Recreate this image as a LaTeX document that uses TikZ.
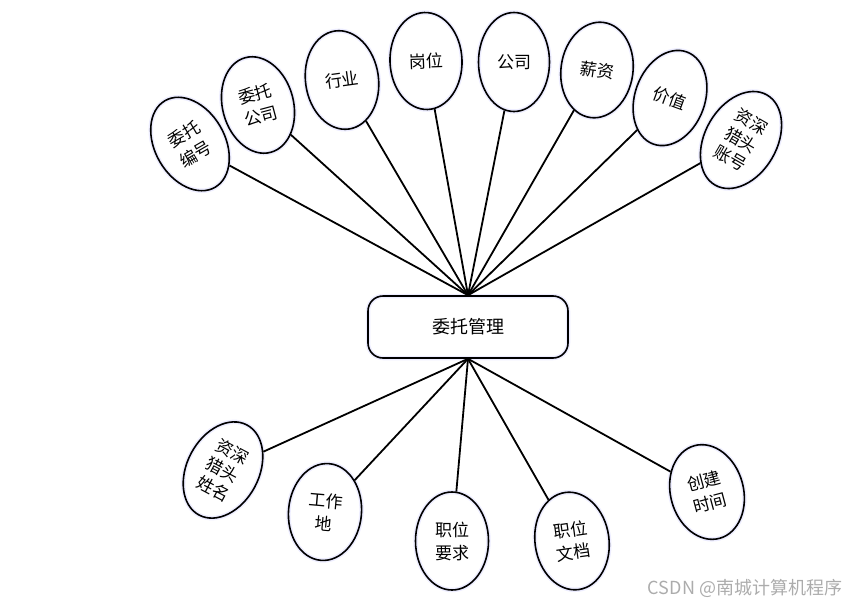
\documentclass[tikz,border=0pt]{standalone}
\usepackage{fontspec}
\setmainfont{Noto Sans CJK SC}
\usetikzlibrary{shapes.geometric}
\begin{document}
\begin{tikzpicture}[x=1pt,y=1pt,
  glow/.style={preaction={draw=blue!7, line width=4.5pt}},
  attr/.style={draw, ellipse, glow, line width=1.6pt, minimum width=71pt, minimum height=98pt,
    inner sep=0pt, align=center, font=\fontsize{17}{23}\selectfont},
  link/.style={line width=1.8pt}]
\useasboundingbox (0,0) rectangle (865,-608);
\node[draw, glow, rounded corners=15pt, line width=1.6pt, minimum width=200pt, minimum height=62pt,
  font=\fontsize{18}{22}\selectfont] (main) at (468,-327) {委托管理};
% top attributes
\node[attr, minimum width=70pt, minimum height=100pt, rotate=30] (e1) at (190,-144) {委托\\编号};
\node[attr, rotate=15] (e2) at (258,-105) {委托\\公司};
\node[attr, minimum width=73pt, minimum height=99pt, rotate=8] (e3) at (342,-80) {行业};
\node[attr, minimum width=72pt, minimum height=97pt, rotate=2] (e4) at (426,-61) {岗位};
\node[attr, minimum width=71pt, minimum height=99pt] (e5) at (514,-62) {公司};
\node[attr, minimum width=72pt, minimum height=96pt, rotate=-8] (e6) at (597,-70) {薪资};
\node[attr, minimum width=70pt, minimum height=98pt, rotate=-20] (e7) at (670,-98) {价值};
\node[attr, minimum width=72pt, minimum height=104pt, rotate=-30, font=\fontsize{17}{21}\selectfont] (e8) at (741,-140) {资深\\猎头\\账号};
% bottom attributes
\node[attr, minimum width=72pt, minimum height=102pt, rotate=-28, font=\fontsize{17}{21}\selectfont] (e9) at (223,-470) {资深\\猎头\\姓名};
\node[attr, minimum width=73pt, minimum height=97pt, rotate=-5] (e10) at (325,-512) {工作\\地};
\node[attr, minimum width=73pt, minimum height=98pt] (e11) at (452,-541) {职位\\要求};
\node[attr, minimum width=74pt, minimum height=98pt, rotate=8] (e12) at (572,-541) {职位\\文档};
\node[attr, minimum width=73pt, minimum height=96pt, rotate=15] (e13) at (707,-492) {创建\\时间};
% connectors
\foreach \e in {e1,e2,e3,e4,e5,e6,e7,e8}{\draw[link] (main.north) -- (\e);}
\foreach \e in {e9,e10,e11,e12,e13}{\draw[link] (main.south) -- (\e);}
% watermark
\node[text=gray!65, font=\fontsize{18}{20}\selectfont, inner sep=0pt] (wm) at (745,-588) {CSDN @南城计算机程序};
\end{tikzpicture}
\end{document}
